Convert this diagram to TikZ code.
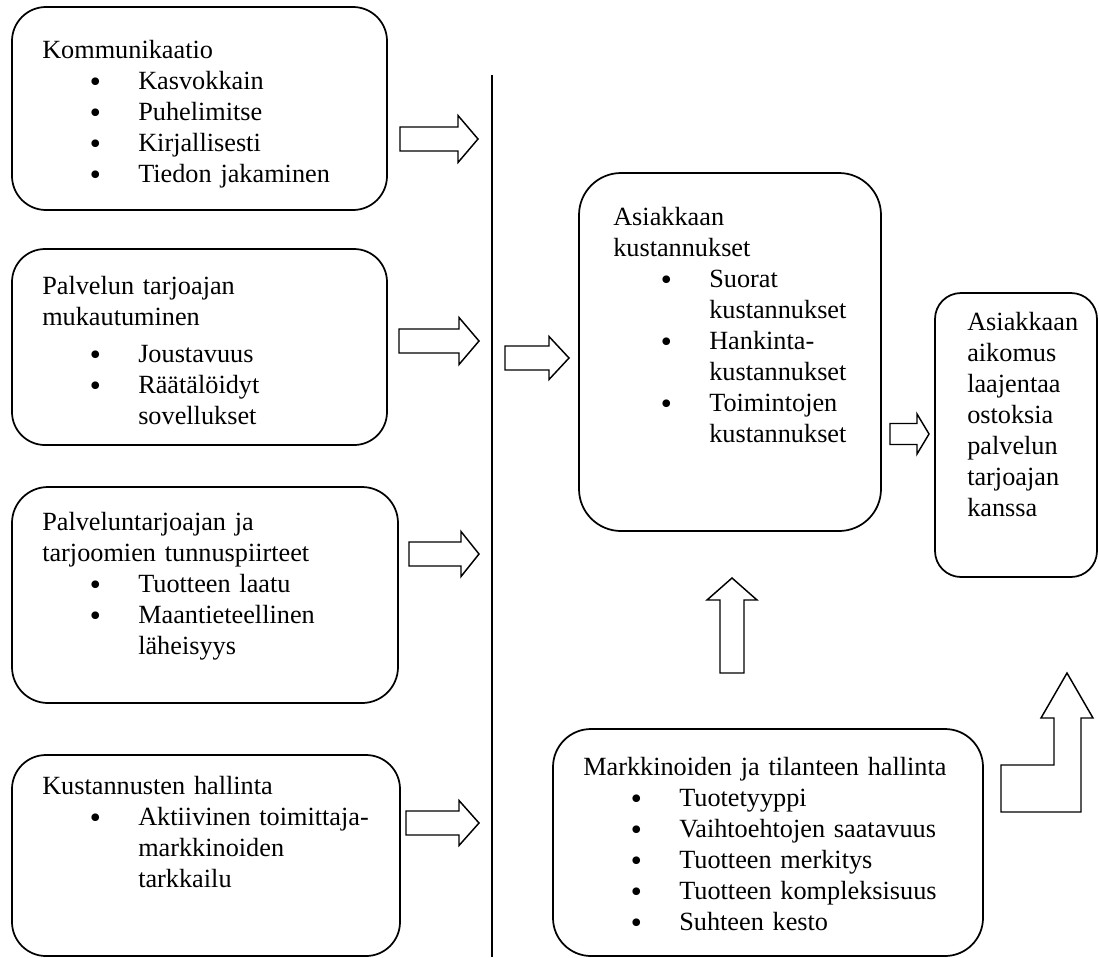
\documentclass[tikz,border=0pt]{standalone}
\usepackage{fontspec}
\setmainfont{Liberation Serif}
\newfontfamily\bulletfont{DejaVu Sans}
% bullet item and its continuation line, as in a word-processor list
\newcommand{\bulletmark}{\raisebox{-1.5pt}{\bulletfont •}}
\newcommand{\itm}[1]{\hspace*{34pt}\makebox[38pt][l]{\bulletmark}#1}
\newcommand{\cnt}[1]{\hspace*{72pt}#1}
\tikzset{
  roundbox/.style={draw, line width=1.3pt, inner sep=0pt, outer sep=0pt},
  boxtext/.style={anchor=base west, inner sep=0pt, text width=320pt, align=left,
                  font=\fontsize{19.7}{23.25}\selectfont},
  blockarrow/.style={draw, line width=1.1pt, line join=miter, fill=white},
}
% rounded box: name, x1, y1, x2, y2, corner radius (pixel units)
\newcommand{\roundboxat}[6]{%
  \node[roundbox, rounded corners={#6*0.75pt},
        minimum width={(#4-#2)*0.75pt}, minimum height={(#5-#3)*0.75pt}]
        (#1) at ({(#2+#4)/2},{(#3+#5)/2}) {};}
% right-pointing block arrow: tip name, tail x, head base x, tip x, y, shaft half, head half
\newcommand{\rarrow}[7]{%
  \draw[blockarrow] (#2,{#5-#6}) -- (#3,{#5-#6}) -- (#3,{#5-#7}) -- (#4,#5) coordinate (#1)
    -- (#3,{#5+#7}) -- (#3,{#5+#6}) -- (#2,{#5+#6}) -- cycle;}
\begin{document}
\begin{tikzpicture}[x=0.75pt,y=-0.75pt]
\fill[white] (0,0) rectangle (1099,957);
\useasboundingbox (0,0) rectangle (1099,957);

% left column
\roundboxat{b1}{12}{7}{387}{210}{34}
\node[boxtext] (t1) at (42,58) {Kommunikaatio\\
  \itm{Kasvokkain}\\ \itm{Puhelimitse}\\ \itm{Kirjallisesti}\\ \itm{Tiedon jakaminen}};

\roundboxat{b2}{12}{249}{387}{445}{33}
\node[boxtext] (t2) at (42,294) {Palvelun tarjoajan\\ mukautuminen\\[4.5pt]
  \itm{Joustavuus}\\ \itm{Räätälöidyt}\\ \cnt{sovellukset}};

\roundboxat{b3}{12}{487}{398}{703}{36}
\node[boxtext] (t3) at (42,530) {Palveluntarjoajan ja\\ tarjoomien tunnuspiirteet\\
  \itm{Tuotteen laatu}\\ \itm{Maantieteellinen}\\ \cnt{läheisyys}};

\roundboxat{b4}{12}{755}{400}{956}{34}
\node[boxtext] (t4) at (42,794) {Kustannusten hallinta\\
  \itm{Aktiivinen toimittaja-}\\ \cnt{markkinoiden}\\ \cnt{tarkkailu}};

% arrows into the divider
\rarrow{a1}{400}{458}{478}{139}{12}{23.5}
\rarrow{a2}{399}{459}{479}{341}{12}{23.5}
\rarrow{a3}{409}{461}{479}{554}{12}{22.5}
\rarrow{a4}{406}{459}{479}{823}{12}{22.5}

% divider
\coordinate (dtop) at (492,75);
\coordinate (dbot) at (492,957);
\draw[line width=1.3pt] (dtop) -- (dbot);

% customer costs
\rarrow{a5}{505}{549}{569}{358}{12}{21.5}
\roundboxat{b5}{579}{173}{881}{531}{42}
\node[boxtext] (t5) at (613,225) {Asiakkaan\\ kustannukset\\
  \itm{Suorat}\\ \cnt{kustannukset}\\ \itm{Hankinta-}\\ \cnt{kustannukset}\\
  \itm{Toimintojen}\\ \cnt{kustannukset}};

% intention
\rarrow{a6}{890}{917}{929}{434}{10.5}{20}
\roundboxat{b6}{935}{293}{1097}{577}{26}
\node[boxtext] (t6) at (967,330) {Asiakkaan\\ aikomus\\ laajentaa\\ ostoksia\\
  palvelun\\ tarjoajan\\ kanssa};

% market and situation management
\draw[blockarrow] (720,673) -- (720,600) -- (707,600) -- (732,578) coordinate (a7)
  -- (757,600) -- (744,600) -- (744,673) -- cycle;
\roundboxat{b7}{553}{729}{983}{956}{38}
\node[boxtext] (t7) at (583,775) {Markkinoiden ja tilanteen hallinta\\
  \itm{Tuotetyyppi}\\ \itm{Vaihtoehtojen saatavuus}\\ \itm{Tuotteen merkitys}\\
  \itm{Tuotteen kompleksisuus}\\ \itm{Suhteen kesto}};

% bent arrow up to the intention box
\draw[blockarrow] (1001,765) -- (1054,765) -- (1054,718) -- (1041,718)
  -- (1067,673) coordinate (a8) -- (1093,718) -- (1081,718) -- (1081,812)
  -- (1001,812) -- cycle;
\end{tikzpicture}
\end{document}
